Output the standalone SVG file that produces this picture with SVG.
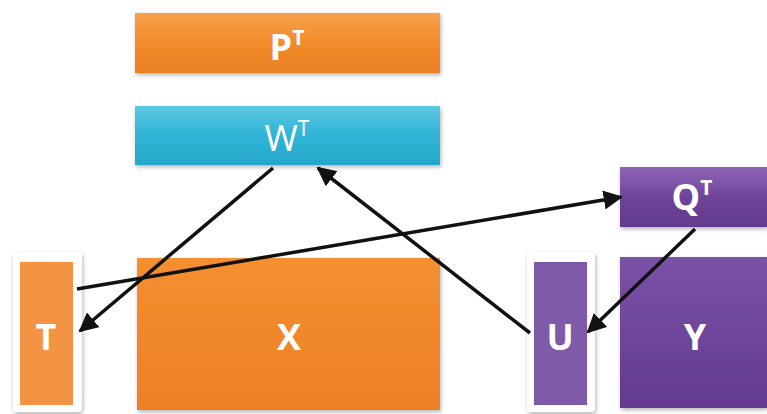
<svg xmlns="http://www.w3.org/2000/svg" width="767" height="414" viewBox="0 0 767 414">
<defs>
<linearGradient id="gO" x1="0" y1="0" x2="0" y2="1"><stop offset="0" stop-color="#F8A04A"/><stop offset="0.5" stop-color="#F28B2A"/><stop offset="1" stop-color="#E97F22"/></linearGradient>
<linearGradient id="gB" x1="0" y1="0" x2="0" y2="1"><stop offset="0" stop-color="#5CC8E2"/><stop offset="0.5" stop-color="#2FB4D6"/><stop offset="1" stop-color="#26A6C8"/></linearGradient>
<linearGradient id="gP" x1="0" y1="0" x2="0" y2="1"><stop offset="0" stop-color="#8E66B6"/><stop offset="0.5" stop-color="#6E449A"/><stop offset="1" stop-color="#62398C"/></linearGradient>
<linearGradient id="gX" x1="0" y1="0" x2="0" y2="1"><stop offset="0" stop-color="#F58F30"/><stop offset="1" stop-color="#EB8024"/></linearGradient>
<linearGradient id="gY" x1="0" y1="0" x2="0" y2="1"><stop offset="0" stop-color="#7A52A6"/><stop offset="1" stop-color="#633A90"/></linearGradient>
<filter id="sh" x="-10%" y="-10%" width="120%" height="130%"><feDropShadow dx="1" dy="2" stdDeviation="2" flood-color="#000" flood-opacity="0.3"/></filter>
<marker id="ah" viewBox="0 0 10 10" refX="9" refY="5" markerWidth="5.5" markerHeight="5.5" orient="auto"><path d="M0,0 L10,5 L0,10 z" fill="#111"/></marker>
</defs>
<style>
.lbl{font-family:"Open Sans","Liberation Sans",sans-serif;font-weight:bold;fill:#fff;font-size:36px;text-anchor:middle}
.lt{font-weight:normal}
.sup{font-size:21px}
.con{stroke:#111;stroke-width:3.5;fill:none;marker-end:url(#ah)}
</style>
<g id="PT"><rect x="135" y="13" width="305" height="60" fill="url(#gO)" filter="url(#sh)"/><text class="lbl" x="287" y="60">P<tspan class="sup" dy="-15">T</tspan></text></g>
<g id="WT"><rect x="135" y="106" width="305" height="59" fill="url(#gB)" filter="url(#sh)"/><text class="lbl lt" x="287" y="151">W<tspan class="sup" dy="-15">T</tspan></text></g>
<g id="QT"><rect x="620" y="167" width="147" height="60" fill="url(#gP)" filter="url(#sh)"/><text class="lbl" x="692" y="210">Q<tspan class="sup" dy="-15">T</tspan></text></g>
<g id="T"><rect x="13" y="252" width="69" height="160" rx="4" fill="#fff" filter="url(#sh)"/><rect x="20" y="262" width="53" height="143" fill="#F39444"/><text class="lbl" x="46" y="350">T</text></g>
<g id="X"><rect x="137" y="258" width="303" height="152" fill="url(#gX)" filter="url(#sh)"/><text class="lbl" x="289" y="350">X</text></g>
<g id="U"><rect x="527" y="252" width="68" height="160" rx="4" fill="#fff" filter="url(#sh)"/><rect x="534" y="262" width="53" height="143" fill="#7E5AA8"/><text class="lbl" x="560" y="350">U</text></g>
<g id="Y"><rect x="620" y="257" width="147" height="151" fill="url(#gY)" filter="url(#sh)"/><text class="lbl" x="695" y="350">Y</text></g>
<g id="connectors">
<line class="con" x1="273" y1="168" x2="80" y2="331"/>
<line class="con" x1="77" y1="289" x2="621" y2="197"/>
<line class="con" x1="530" y1="333" x2="318" y2="168"/>
<line class="con" x1="695" y1="229" x2="588" y2="332"/>
</g>
</svg>
